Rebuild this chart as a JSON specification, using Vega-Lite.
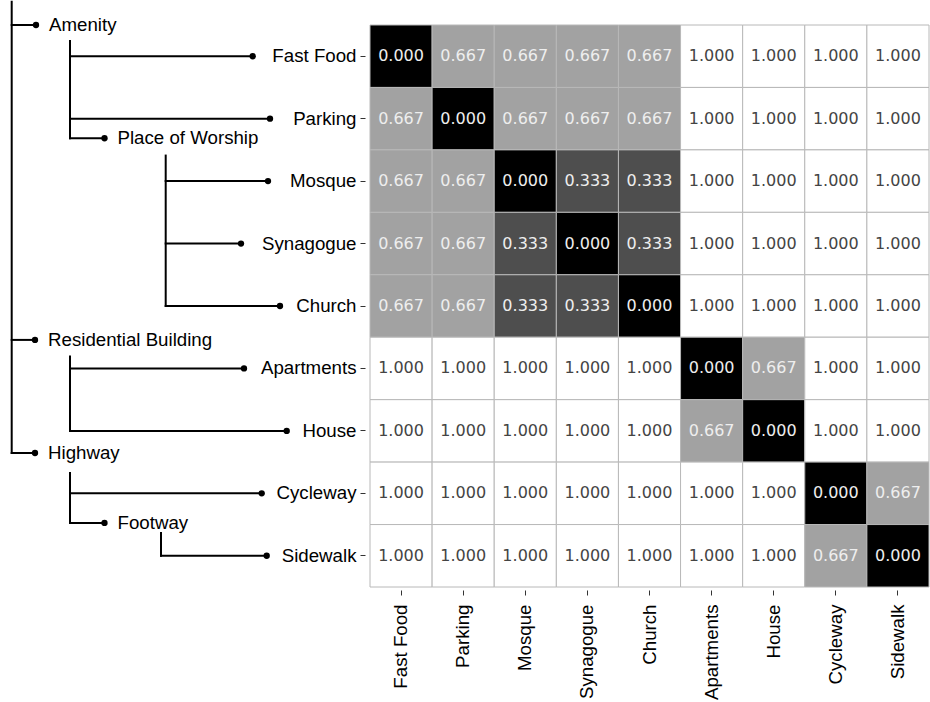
{
  "$schema": "https://vega.github.io/schema/vega-lite/v6.json",
  "padding": 0,
  "background": "white",
  "bounds": "flush",
  "spacing": 0,
  "config": {
    "view": {"stroke": null},
    "font": "Liberation Sans",
    "axis": {
      "labelFont": "Liberation Sans",
      "labelFontSize": 18.7,
      "labelColor": "black",
      "tickColor": "#333333",
      "tickSize": 5,
      "tickWidth": 1,
      "domain": false,
      "grid": false,
      "title": null
    }
  },
  "datasets": {
    "edges": [
      {"x": 1.17, "x2": 1.17, "y": -0.873, "y2": 6.354},
      {"x": 1.17, "x2": 3.6, "y": -0.5, "y2": -0.5},
      {"x": 1.17, "x2": 3.5, "y": 4.543, "y2": 4.543},
      {"x": 1.17, "x2": 3.5, "y": 6.354, "y2": 6.354},
      {"x": 7.0, "x2": 7.0, "y": -0.244, "y2": 1.314},
      {"x": 7.0, "x2": 25.27, "y": 0, "y2": 0},
      {"x": 7.0, "x2": 27.0, "y": 1, "y2": 1},
      {"x": 7.0, "x2": 10.45, "y": 1.314, "y2": 1.314},
      {"x": 16.57, "x2": 16.57, "y": 1.591, "y2": 4},
      {"x": 16.57, "x2": 26.8, "y": 2, "y2": 2},
      {"x": 16.57, "x2": 24.1, "y": 3, "y2": 3},
      {"x": 16.57, "x2": 28.0, "y": 4, "y2": 4},
      {"x": 7.0, "x2": 7.0, "y": 4.807, "y2": 6},
      {"x": 7.0, "x2": 24.4, "y": 5, "y2": 5},
      {"x": 7.0, "x2": 28.67, "y": 6, "y2": 6},
      {"x": 7.0, "x2": 7.0, "y": 6.674, "y2": 7.474},
      {"x": 7.0, "x2": 26.17, "y": 7, "y2": 7},
      {"x": 7.0, "x2": 10.45, "y": 7.474, "y2": 7.474},
      {"x": 16.1, "x2": 16.1, "y": 7.634, "y2": 8},
      {"x": 16.1, "x2": 26.67, "y": 8, "y2": 8}
    ],
    "nodes": [
      {"name": "Amenity", "kind": "group", "x": 3.6, "y": -0.5},
      {"name": "Residential Building", "kind": "group", "x": 3.5, "y": 4.543},
      {"name": "Highway", "kind": "group", "x": 3.5, "y": 6.354},
      {"name": "Place of Worship", "kind": "group", "x": 10.45, "y": 1.314},
      {"name": "Footway", "kind": "group", "x": 10.45, "y": 7.474},
      {"name": "Fast Food", "kind": "leaf", "x": 25.27, "y": 0},
      {"name": "Parking", "kind": "leaf", "x": 27.0, "y": 1},
      {"name": "Mosque", "kind": "leaf", "x": 26.8, "y": 2},
      {"name": "Synagogue", "kind": "leaf", "x": 24.1, "y": 3},
      {"name": "Church", "kind": "leaf", "x": 28.0, "y": 4},
      {"name": "Apartments", "kind": "leaf", "x": 24.4, "y": 5},
      {"name": "House", "kind": "leaf", "x": 28.67, "y": 6},
      {"name": "Cycleway", "kind": "leaf", "x": 26.17, "y": 7},
      {"name": "Sidewalk", "kind": "leaf", "x": 26.67, "y": 8}
    ],
    "cells": [
      {"r": "Fast Food", "c": "Fast Food", "d": 0},
      {"r": "Fast Food", "c": "Parking", "d": 0.667},
      {"r": "Fast Food", "c": "Mosque", "d": 0.667},
      {"r": "Fast Food", "c": "Synagogue", "d": 0.667},
      {"r": "Fast Food", "c": "Church", "d": 0.667},
      {"r": "Fast Food", "c": "Apartments", "d": 1},
      {"r": "Fast Food", "c": "House", "d": 1},
      {"r": "Fast Food", "c": "Cycleway", "d": 1},
      {"r": "Fast Food", "c": "Sidewalk", "d": 1},
      {"r": "Parking", "c": "Fast Food", "d": 0.667},
      {"r": "Parking", "c": "Parking", "d": 0},
      {"r": "Parking", "c": "Mosque", "d": 0.667},
      {"r": "Parking", "c": "Synagogue", "d": 0.667},
      {"r": "Parking", "c": "Church", "d": 0.667},
      {"r": "Parking", "c": "Apartments", "d": 1},
      {"r": "Parking", "c": "House", "d": 1},
      {"r": "Parking", "c": "Cycleway", "d": 1},
      {"r": "Parking", "c": "Sidewalk", "d": 1},
      {"r": "Mosque", "c": "Fast Food", "d": 0.667},
      {"r": "Mosque", "c": "Parking", "d": 0.667},
      {"r": "Mosque", "c": "Mosque", "d": 0},
      {"r": "Mosque", "c": "Synagogue", "d": 0.333},
      {"r": "Mosque", "c": "Church", "d": 0.333},
      {"r": "Mosque", "c": "Apartments", "d": 1},
      {"r": "Mosque", "c": "House", "d": 1},
      {"r": "Mosque", "c": "Cycleway", "d": 1},
      {"r": "Mosque", "c": "Sidewalk", "d": 1},
      {"r": "Synagogue", "c": "Fast Food", "d": 0.667},
      {"r": "Synagogue", "c": "Parking", "d": 0.667},
      {"r": "Synagogue", "c": "Mosque", "d": 0.333},
      {"r": "Synagogue", "c": "Synagogue", "d": 0},
      {"r": "Synagogue", "c": "Church", "d": 0.333},
      {"r": "Synagogue", "c": "Apartments", "d": 1},
      {"r": "Synagogue", "c": "House", "d": 1},
      {"r": "Synagogue", "c": "Cycleway", "d": 1},
      {"r": "Synagogue", "c": "Sidewalk", "d": 1},
      {"r": "Church", "c": "Fast Food", "d": 0.667},
      {"r": "Church", "c": "Parking", "d": 0.667},
      {"r": "Church", "c": "Mosque", "d": 0.333},
      {"r": "Church", "c": "Synagogue", "d": 0.333},
      {"r": "Church", "c": "Church", "d": 0},
      {"r": "Church", "c": "Apartments", "d": 1},
      {"r": "Church", "c": "House", "d": 1},
      {"r": "Church", "c": "Cycleway", "d": 1},
      {"r": "Church", "c": "Sidewalk", "d": 1},
      {"r": "Apartments", "c": "Fast Food", "d": 1},
      {"r": "Apartments", "c": "Parking", "d": 1},
      {"r": "Apartments", "c": "Mosque", "d": 1},
      {"r": "Apartments", "c": "Synagogue", "d": 1},
      {"r": "Apartments", "c": "Church", "d": 1},
      {"r": "Apartments", "c": "Apartments", "d": 0},
      {"r": "Apartments", "c": "House", "d": 0.667},
      {"r": "Apartments", "c": "Cycleway", "d": 1},
      {"r": "Apartments", "c": "Sidewalk", "d": 1},
      {"r": "House", "c": "Fast Food", "d": 1},
      {"r": "House", "c": "Parking", "d": 1},
      {"r": "House", "c": "Mosque", "d": 1},
      {"r": "House", "c": "Synagogue", "d": 1},
      {"r": "House", "c": "Church", "d": 1},
      {"r": "House", "c": "Apartments", "d": 0.667},
      {"r": "House", "c": "House", "d": 0},
      {"r": "House", "c": "Cycleway", "d": 1},
      {"r": "House", "c": "Sidewalk", "d": 1},
      {"r": "Cycleway", "c": "Fast Food", "d": 1},
      {"r": "Cycleway", "c": "Parking", "d": 1},
      {"r": "Cycleway", "c": "Mosque", "d": 1},
      {"r": "Cycleway", "c": "Synagogue", "d": 1},
      {"r": "Cycleway", "c": "Church", "d": 1},
      {"r": "Cycleway", "c": "Apartments", "d": 1},
      {"r": "Cycleway", "c": "House", "d": 1},
      {"r": "Cycleway", "c": "Cycleway", "d": 0},
      {"r": "Cycleway", "c": "Sidewalk", "d": 0.667},
      {"r": "Sidewalk", "c": "Fast Food", "d": 1},
      {"r": "Sidewalk", "c": "Parking", "d": 1},
      {"r": "Sidewalk", "c": "Mosque", "d": 1},
      {"r": "Sidewalk", "c": "Synagogue", "d": 1},
      {"r": "Sidewalk", "c": "Church", "d": 1},
      {"r": "Sidewalk", "c": "Apartments", "d": 1},
      {"r": "Sidewalk", "c": "House", "d": 1},
      {"r": "Sidewalk", "c": "Cycleway", "d": 0.667},
      {"r": "Sidewalk", "c": "Sidewalk", "d": 0}
    ]
  },
  "hconcat": [
    {
      "width": 370,
      "height": 562,
      "view": {"stroke": null, "fill": "white"},
      "layer": [
        {
          "data": {"name": "edges"},
          "mark": {"type": "rule", "strokeWidth": 2, "color": "black", "strokeCap": "square"},
          "encoding": {
            "x": {"field": "x", "type": "quantitative", "scale": {"domain": [0, 37], "nice": false, "zero": false}, "axis": null},
            "x2": {"field": "x2"},
            "y": {"field": "y", "type": "quantitative", "scale": {"domain": [-0.5, 8.5], "reverse": true, "nice": false, "zero": false}, "axis": null},
            "y2": {"field": "y2"}
          }
        },
        {
          "data": {"name": "nodes"},
          "mark": {"type": "circle", "size": 40, "color": "black", "opacity": 1},
          "encoding": {
            "x": {"field": "x", "type": "quantitative", "axis": null},
            "y": {"field": "y", "type": "quantitative", "axis": null}
          }
        },
        {
          "data": {"name": "nodes"},
          "transform": [{"filter": "datum.kind == 'group'"}],
          "mark": {"type": "text", "align": "left", "baseline": "middle", "dx": 13, "fontSize": 18.7, "font": "Liberation Sans", "color": "black"},
          "encoding": {
            "x": {"field": "x", "type": "quantitative", "axis": null},
            "y": {"field": "y", "type": "quantitative", "axis": null},
            "text": {"field": "name", "type": "nominal"}
          }
        }
      ]
    },
    {
      "width": 559,
      "height": 562,
      "data": {"name": "cells"},
      "encoding": {
        "x": {
          "field": "c",
          "type": "nominal",
          "sort": ["Fast Food", "Parking", "Mosque", "Synagogue", "Church", "Apartments", "House", "Cycleway", "Sidewalk"],
          "scale": {"paddingInner": 0, "paddingOuter": 0},
          "axis": {"orient": "bottom", "labelAngle": -90, "labelAlign": "right", "labelBaseline": "middle", "offset": 3, "labelPadding": 9}
        },
        "y": {
          "field": "r",
          "type": "nominal",
          "sort": ["Fast Food", "Parking", "Mosque", "Synagogue", "Church", "Apartments", "House", "Cycleway", "Sidewalk"],
          "scale": {"paddingInner": 0, "paddingOuter": 0},
          "axis": {"orient": "left", "offset": 5, "labelPadding": 4}
        }
      },
      "layer": [
        {
          "mark": {"type": "rect", "stroke": "#b8b8b8", "strokeWidth": 1},
          "encoding": {
            "fill": {"field": "d", "type": "quantitative", "scale": {"domain": [0, 1], "range": ["#000000", "#ffffff"]}, "legend": null}
          }
        },
        {
          "mark": {"type": "text", "font": "DejaVu Sans", "fontSize": 16, "baseline": "middle"},
          "encoding": {
            "text": {"field": "d", "type": "quantitative", "format": ".3f"},
            "color": {"condition": {"test": "datum.d > 0.9", "value": "#444444"}, "value": "#eeeeee"}
          }
        }
      ]
    }
  ]
}
